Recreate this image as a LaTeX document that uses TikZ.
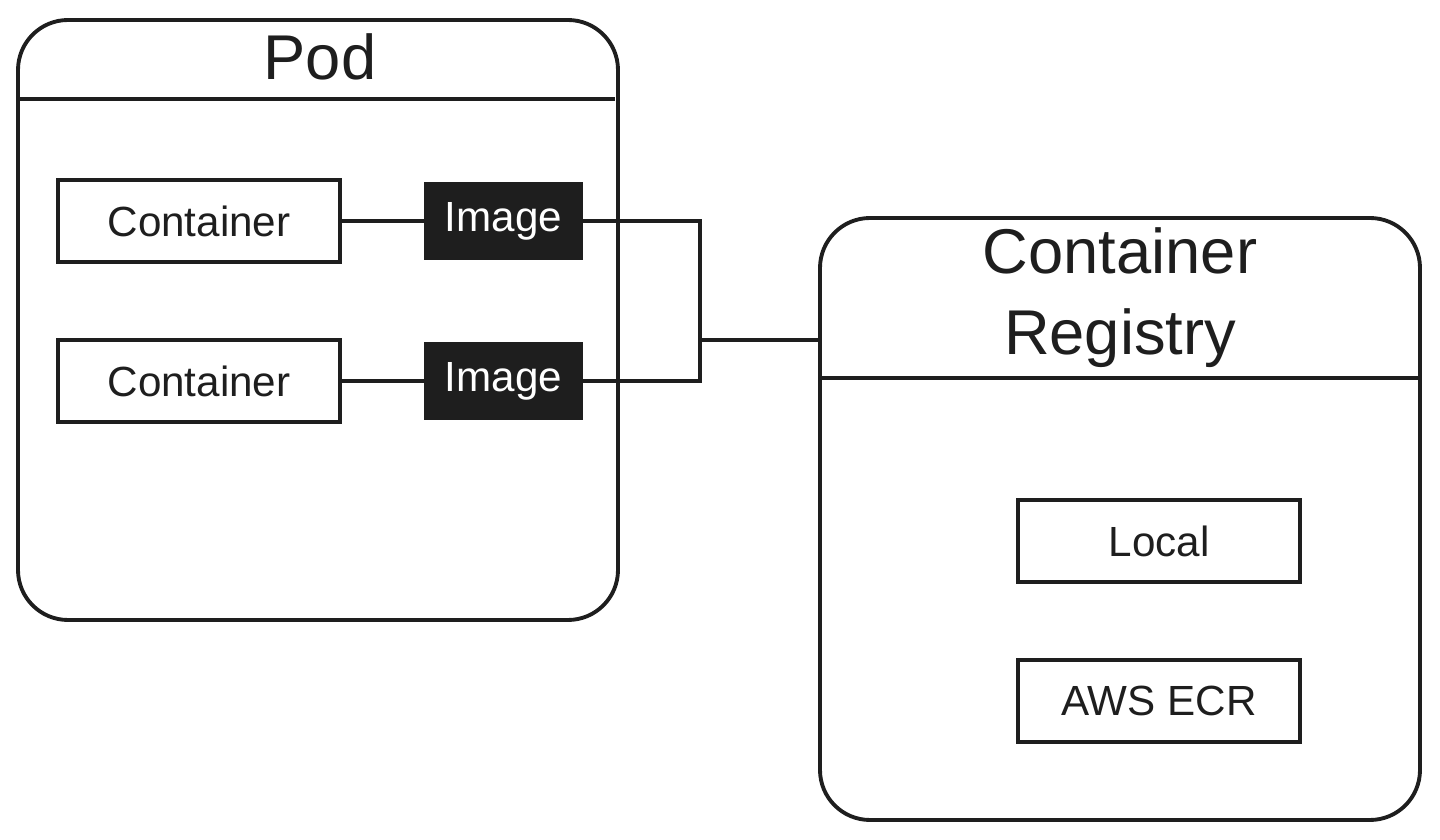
\documentclass[tikz,border=0pt]{standalone}
\usepackage{fontspec}
\setmainfont{Liberation Sans}
\usepackage{xcolor}
\usepackage{tikz}
\usetikzlibrary{positioning}
\definecolor{InkBlack}{RGB}{30,30,30}

\begin{document}
\begin{tikzpicture}[node distance=0.8cm, every node/.style={font=\fontsize{12}{14}\selectfont, text=InkBlack},
  panel/.style={draw=InkBlack, line width=1.1pt, rounded corners=0.5cm, minimum width=6cm, minimum height=6cm, inner sep=0pt},
  box/.style={draw=InkBlack, line width=1pt, minimum width=2.82cm, minimum height=0.82cm, inner sep=0pt},
  imgbox/.style={fill=InkBlack, draw=InkBlack, text=white, minimum width=1.58cm, minimum height=0.76cm, inner sep=0pt},
  title/.style={font=\fontsize{18}{23}\selectfont, align=center},
  divider/.style={draw=InkBlack, line width=1.3pt},
  wire/.style={draw=InkBlack, line width=1pt}]

\useasboundingbox (0,0) rectangle (14.4,8.4);

% Pod with its two containers
\node[panel] (pod) at (3.18,5.2) {};
\node[title] (podtitle) at (3.2,7.83) {Pod};
\draw[divider] ([yshift=-0.81cm]pod.north west) -- ([yshift=-0.81cm, xshift=-0.05cm]pod.north east);

\node[box] (cont1) at (1.99,6.19) {Container};
\node[box] (cont2) at (1.99,4.59) {Container};
\node[imgbox, right=0.82cm of cont1] (img1) {Image};
\node[imgbox, right=0.82cm of cont2] (img2) {Image};

% Container Registry
\node[panel, minimum height=6.02cm] (reg) at (11.2,3.21) {};
\node[title] (regtitle) at (11.2,5.42) {Container\\Registry};
\draw[divider] ([yshift=-1.62cm]reg.north west) -- ([yshift=-1.62cm]reg.north east);

\node[box] (local) at (11.59,2.99) {Local};
\node[box] (ecr) at (11.59,1.39) {AWS ECR};

% Connectors
\coordinate (hub) at (7.0,5.0);
\draw[wire] (cont1) -- (img1);
\draw[wire] (cont2) -- (img2);
\draw[wire] (img1.east) -| (hub);
\draw[wire] (img2.east) -| (hub);
\draw[wire] (hub) -- (hub -| reg.west);
\end{tikzpicture}
\end{document}
